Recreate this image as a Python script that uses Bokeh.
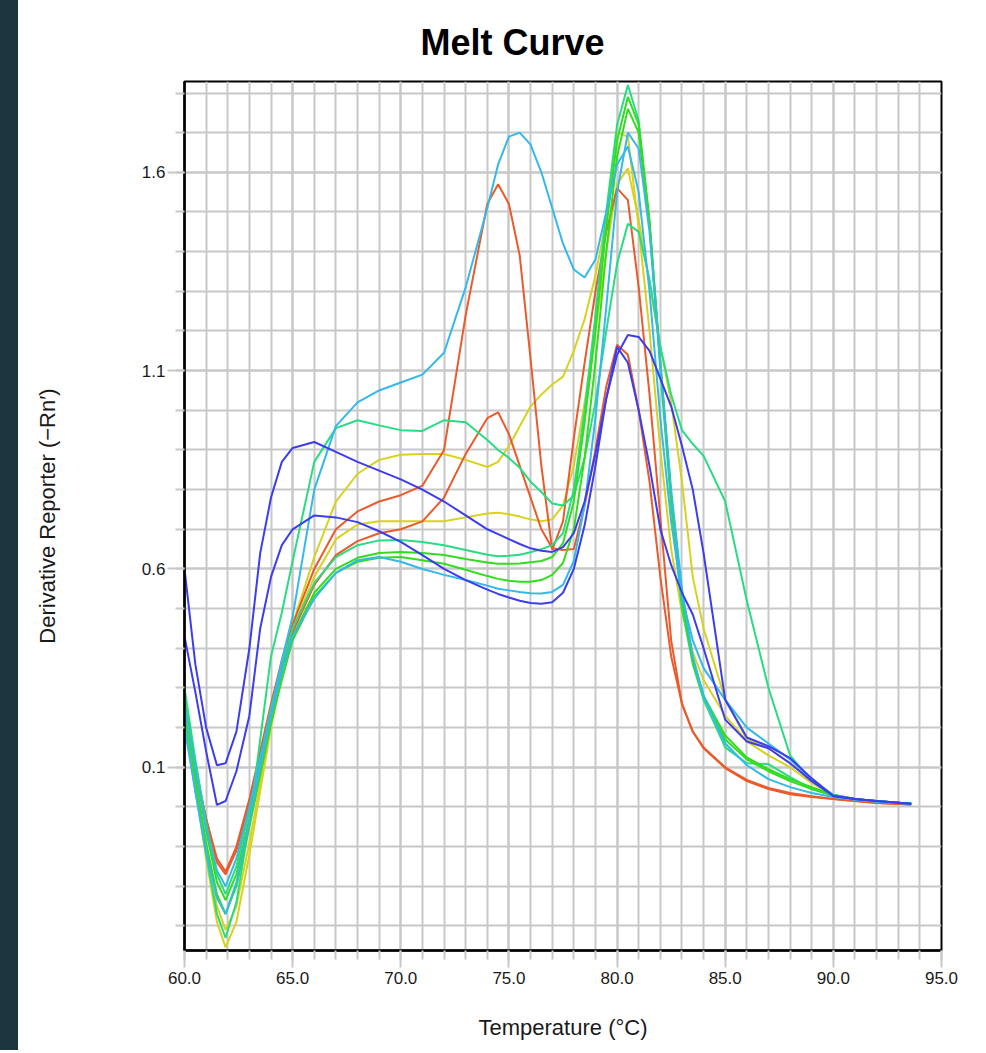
from bokeh.plotting import figure
from bokeh.models import FixedTicker, PrintfTickFormatter, Div, Range1d
from bokeh.layouts import row
from bokeh.embed import file_html
from bokeh.resources import INLINE

temps = [60, 60.5, 61, 61.5, 61.9, 62.4, 63, 63.5, 64, 64.5,
         65, 66, 67, 68, 69, 70, 71, 72, 73, 74,
         74.5, 75, 75.5, 76, 76.5, 77, 77.5, 78, 78.5, 79,
         79.5, 80, 80.5, 81, 81.5, 82, 82.5, 83, 83.5, 84,
         85, 86, 87, 88, 89, 90, 91, 92, 93.6]

blue_1 = [0.60, 0.36, 0.20, 0.105, 0.11, 0.19, 0.40, 0.64, 0.78, 0.87,
          0.905, 0.92, 0.895, 0.87, 0.848, 0.826, 0.80, 0.77, 0.735, 0.70,
          0.688, 0.675, 0.663, 0.652, 0.646, 0.643, 0.655, 0.69, 0.77, 0.89,
          1.03, 1.14, 1.19, 1.185, 1.15, 1.08, 1.01, 0.91, 0.80, 0.64,
          0.27, 0.175, 0.153, 0.123, 0.072, 0.027, 0.02, 0.015, 0.008]
blue_2 = [0.43, 0.29, 0.14, 0.005, 0.015, 0.09, 0.23, 0.45, 0.58, 0.66,
          0.70, 0.735, 0.73, 0.718, 0.695, 0.668, 0.635, 0.60, 0.572, 0.548,
          0.537, 0.528, 0.52, 0.514, 0.512, 0.516, 0.54, 0.60, 0.71, 0.86,
          1.03, 1.16, 1.12, 1.0, 0.86, 0.70, 0.61, 0.54, 0.485, 0.40,
          0.22, 0.165, 0.148, 0.11, 0.065, 0.028, 0.02, 0.015, 0.008]
red_1 = [0.24, 0.09, -0.03, -0.13, -0.163, -0.10, 0.02, 0.14, 0.26, 0.37,
         0.46, 0.60, 0.70, 0.745, 0.77, 0.786, 0.81, 0.90, 1.24, 1.52,
         1.57, 1.52, 1.39, 1.13, 0.86, 0.648, 0.72, 0.93, 1.12, 1.30,
         1.45, 1.56, 1.53, 1.31, 1.04, 0.73, 0.42, 0.26, 0.19, 0.148,
         0.098, 0.065, 0.045, 0.032, 0.025, 0.02, 0.015, 0.01, 0.006]
red_2 = [0.26, 0.10, -0.03, -0.14, -0.17, -0.11, 0.01, 0.13, 0.25, 0.35,
         0.44, 0.56, 0.635, 0.67, 0.69, 0.70, 0.72, 0.78, 0.89, 0.98,
         0.995, 0.94, 0.86, 0.78, 0.70, 0.652, 0.648, 0.65, 0.76, 0.90,
         1.06, 1.165, 1.14, 1.0, 0.82, 0.58, 0.38, 0.26, 0.19, 0.15,
         0.10, 0.068, 0.048, 0.035, 0.027, 0.02, 0.015, 0.01, 0.006]
cyan_1 = [0.26, 0.10, -0.05, -0.16, -0.20, -0.13, 0.0, 0.12, 0.24, 0.37,
          0.48, 0.80, 0.96, 1.02, 1.05, 1.07, 1.09, 1.145, 1.31, 1.51,
          1.62, 1.69, 1.70, 1.67, 1.60, 1.51, 1.42, 1.355, 1.335, 1.38,
          1.50, 1.62, 1.665, 1.55, 1.30, 0.98, 0.72, 0.53, 0.42, 0.35,
          0.27, 0.20, 0.16, 0.12, 0.07, 0.03, 0.02, 0.015, 0.008]
cyan_2 = [0.20, 0.04, -0.11, -0.23, -0.27, -0.19, -0.04, 0.10, 0.23, 0.34,
          0.43, 0.525, 0.59, 0.622, 0.63, 0.618, 0.60, 0.585, 0.572, 0.558,
          0.55, 0.546, 0.542, 0.539, 0.538, 0.542, 0.56, 0.62, 0.76, 0.98,
          1.26, 1.55, 1.70, 1.66, 1.45, 1.12, 0.80, 0.55, 0.38, 0.28,
          0.16, 0.105, 0.07, 0.05, 0.035, 0.025, 0.018, 0.013, 0.008]
teal_1 = [0.22, 0.04, -0.12, -0.27, -0.33, -0.24, -0.04, 0.17, 0.38, 0.49,
          0.62, 0.87, 0.955, 0.975, 0.962, 0.95, 0.948, 0.975, 0.97, 0.925,
          0.90, 0.88, 0.855, 0.82, 0.794, 0.765, 0.76, 0.785, 0.88, 1.02,
          1.20, 1.37, 1.47, 1.45, 1.33, 1.16, 1.04, 0.95, 0.915, 0.885,
          0.77, 0.52, 0.30, 0.13, 0.065, 0.03, 0.02, 0.015, 0.008]
teal_2 = [0.30, 0.12, -0.04, -0.17, -0.22, -0.15, -0.01, 0.12, 0.25, 0.36,
          0.45, 0.565, 0.63, 0.66, 0.672, 0.673, 0.668, 0.66, 0.648, 0.636,
          0.632, 0.633, 0.636, 0.642, 0.65, 0.66, 0.69, 0.80, 1.00, 1.24,
          1.50, 1.72, 1.82, 1.73, 1.47, 1.10, 0.76, 0.50, 0.36, 0.27,
          0.15, 0.11, 0.108, 0.075, 0.045, 0.028, 0.02, 0.014, 0.008]
yellow_1 = [0.24, 0.05, -0.13, -0.29, -0.354, -0.29, -0.12, 0.04, 0.20, 0.34,
            0.46, 0.63, 0.77, 0.84, 0.875, 0.888, 0.89, 0.89, 0.875, 0.857,
            0.87, 0.91, 0.96, 1.01, 1.04, 1.065, 1.085, 1.15, 1.23, 1.34,
            1.48, 1.70, 1.69, 1.46, 1.20, 0.90, 0.65, 0.49, 0.39, 0.32,
            0.23, 0.165, 0.13, 0.10, 0.06, 0.03, 0.02, 0.015, 0.008]
yellow_2 = [0.28, 0.08, -0.10, -0.25, -0.31, -0.25, -0.09, 0.06, 0.21, 0.34,
            0.45, 0.58, 0.675, 0.712, 0.72, 0.72, 0.72, 0.72, 0.73, 0.74,
            0.742, 0.738, 0.732, 0.725, 0.72, 0.725, 0.76, 0.86, 1.02, 1.20,
            1.40, 1.57, 1.61, 1.48, 1.32, 1.16, 1.02, 0.82, 0.58, 0.45,
            0.27, 0.17, 0.148, 0.11, 0.068, 0.03, 0.02, 0.014, 0.008]
green_1 = [0.27, 0.10, -0.06, -0.19, -0.235, -0.17, -0.03, 0.10, 0.23, 0.34,
           0.43, 0.54, 0.60, 0.628, 0.64, 0.643, 0.64, 0.635, 0.625, 0.616,
           0.613, 0.613, 0.614, 0.617, 0.62, 0.63, 0.665, 0.77, 0.97, 1.20,
           1.46, 1.68, 1.79, 1.72, 1.48, 1.12, 0.78, 0.52, 0.37, 0.28,
           0.17, 0.12, 0.09, 0.065, 0.045, 0.03, 0.02, 0.014, 0.008]
green_2 = [0.25, 0.07, -0.09, -0.22, -0.27, -0.20, -0.05, 0.08, 0.21, 0.32,
           0.42, 0.53, 0.59, 0.618, 0.628, 0.63, 0.622, 0.613, 0.598, 0.582,
           0.575, 0.57, 0.568, 0.568, 0.572, 0.585, 0.615, 0.70, 0.88, 1.12,
           1.40, 1.64, 1.76, 1.70, 1.47, 1.12, 0.78, 0.52, 0.37, 0.28,
           0.18, 0.125, 0.095, 0.07, 0.05, 0.03, 0.02, 0.014, 0.008]

BLUE = "#3c3cf0"
CYAN = "#33b9ea"
RED = "#ec5a2a"
YELLOW = "#d8d21e"
GREEN = "#32dc1e"
TEAL = "#28dc84"

series = [
    (yellow_1, YELLOW), (yellow_2, YELLOW),
    (red_1, RED), (red_2, RED),
    (teal_1, TEAL), (teal_2, TEAL),
    (green_1, GREEN), (green_2, GREEN),
    (cyan_1, CYAN), (cyan_2, CYAN),
    (blue_1, BLUE), (blue_2, BLUE),
]

x_major = [60, 65, 70, 75, 80, 85, 90, 95]
x_minor = list(range(60, 96))
y_major = [0.1, 0.6, 1.1, 1.6]
y_minor = [round(-0.3 + 0.1 * i, 1) for i in range(22)]

GRID = "#c8c8c8"
FONT = "Liberation Sans"

p = figure(width=966, height=1050, output_backend="svg", toolbar_location=None,
           x_range=Range1d(60, 95), y_range=Range1d(-0.362, 1.829),
           min_border_left=166, min_border_right=43, min_border_top=79,
           min_border_bottom=100, background_fill_color="white",
           border_fill_color="white")

p.title.text = "Melt Curve"
p.title.text_font = FONT
p.title.text_font_size = "36px"
p.title.text_font_style = "bold"
p.title.text_color = "black"
p.title.align = "left"
p.title.offset = 236
p.title.standoff = 38

for ys, c in series:
    p.line(temps, ys, line_color=c, line_width=2)

p.xaxis.ticker = FixedTicker(ticks=x_major, minor_ticks=x_minor)
p.yaxis.ticker = FixedTicker(ticks=y_major, minor_ticks=y_minor)
p.xaxis.formatter = PrintfTickFormatter(format="%.1f")
p.yaxis.formatter = PrintfTickFormatter(format="%.1f")

for ax in (p.xaxis, p.yaxis):
    ax.axis_line_color = "black"
    ax.axis_line_width = 2.5
    ax.major_tick_line_color = GRID
    ax.minor_tick_line_color = GRID
    ax.major_tick_line_width = 2
    ax.minor_tick_line_width = 2
    ax.major_tick_in = 0
    ax.minor_tick_in = 0
    ax.major_tick_out = 17
    ax.minor_tick_out = 9
    ax.major_label_text_font = FONT
    ax.major_label_text_font_size = "17px"
    ax.major_label_text_color = "#1a1a1a"
    ax.axis_label_text_font = FONT
    ax.axis_label_text_font_size = "22px"
    ax.axis_label_text_font_style = "normal"
    ax.axis_label_text_color = "#1a1a1a"

p.xaxis.major_label_standoff = 4
p.yaxis.major_label_standoff = 2
p.xaxis.axis_label = "Temperature (°C)"
p.yaxis.axis_label = "Derivative Reporter (−Rn′)"
p.xaxis.axis_label_standoff = 28
p.yaxis.axis_label_standoff = 79

p.xgrid.grid_line_color = GRID
p.xgrid.grid_line_width = 2
p.xgrid.minor_grid_line_color = GRID
p.xgrid.minor_grid_line_width = 2
p.ygrid.grid_line_color = GRID
p.ygrid.grid_line_width = 2
p.ygrid.minor_grid_line_color = GRID
p.ygrid.minor_grid_line_width = 2

p.outline_line_color = "black"
p.outline_line_width = 2

strip = Div(text="", width=18, height=1050, margin=0,
            styles={"background-color": "#1c3640"})

layout = row(strip, p, spacing=0)

open("out.html", "w").write(file_html(layout, INLINE))
